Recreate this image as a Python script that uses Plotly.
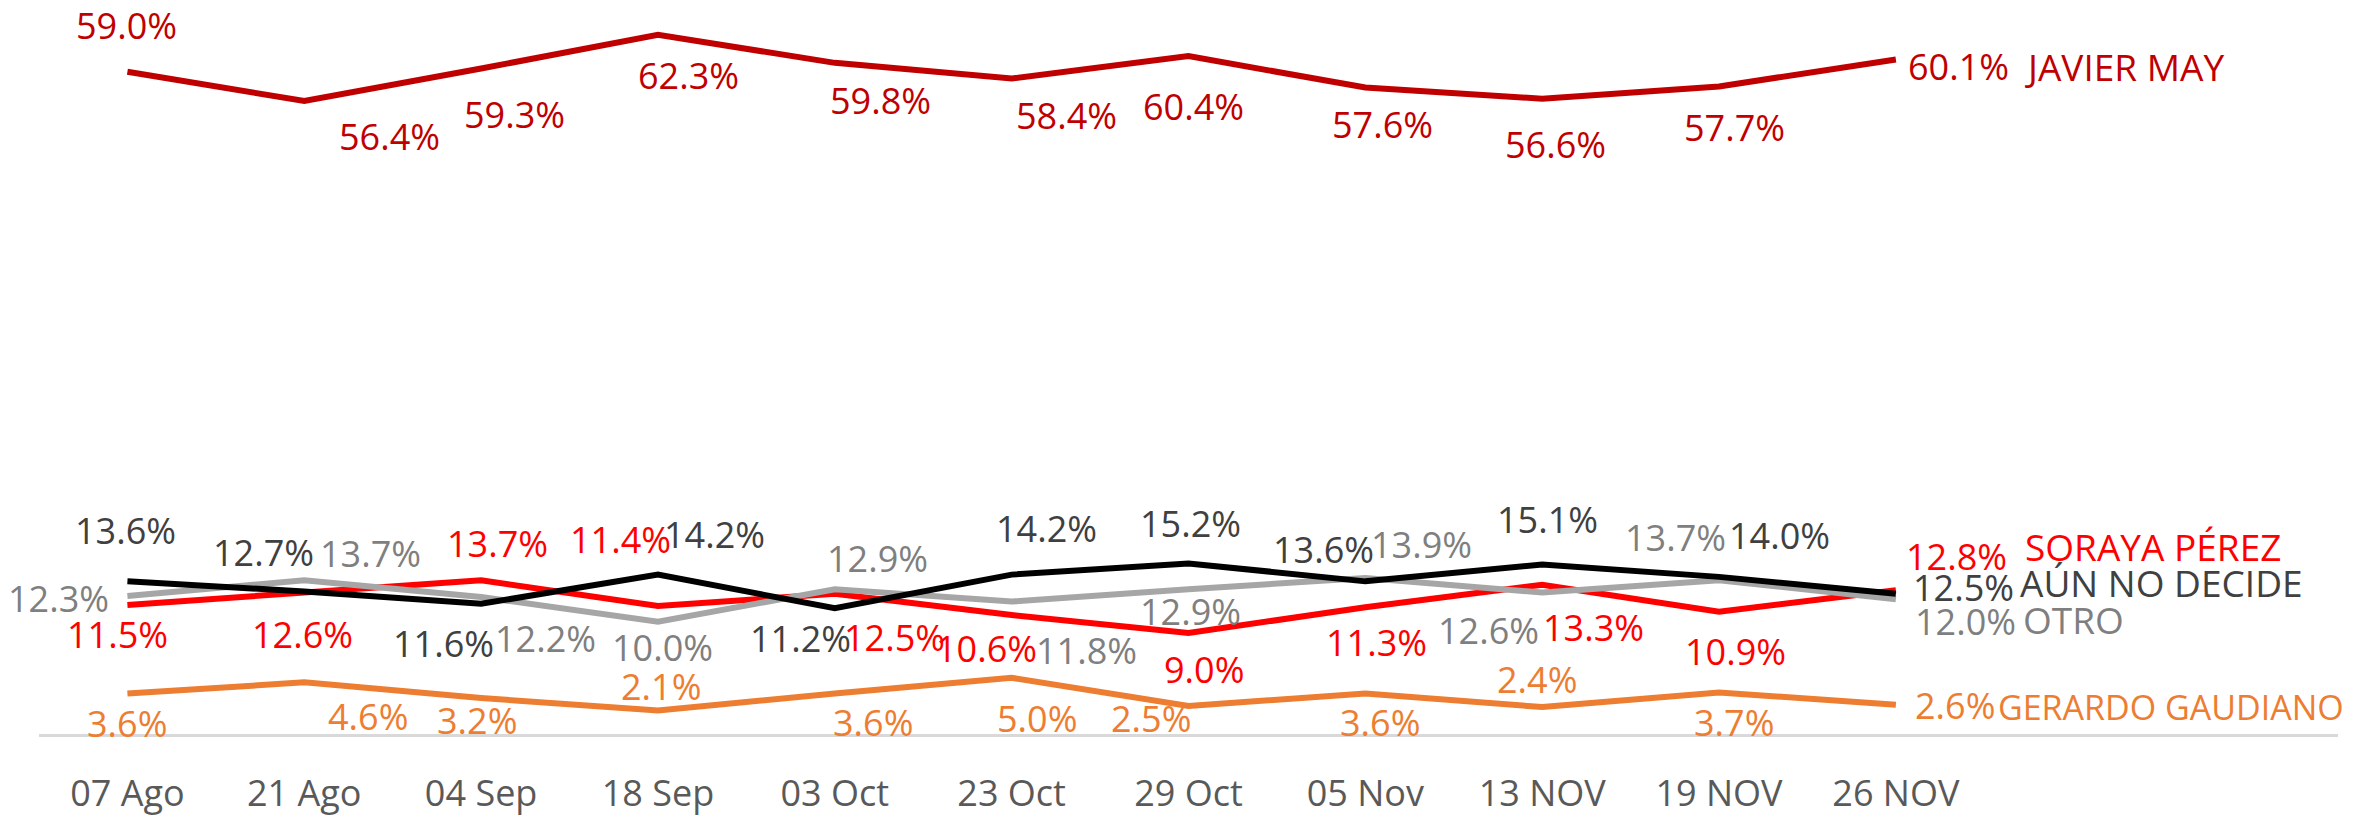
import plotly.graph_objects as go

# ---------------- data ----------------
categories = ["07 Ago", "21 Ago", "04 Sep", "18 Sep", "03 Oct", "23 Oct",
              "29 Oct", "05 Nov", "13 NOV", "19 NOV", "26 NOV"]

javier_may = [59.0, 56.4, 59.3, 62.3, 59.8, 58.4, 60.4, 57.6, 56.6, 57.7, 60.1]
soraya_perez = [11.5, 12.6, 13.7, 11.4, 12.5, 10.6, 9.0, 11.3, 13.3, 10.9, 12.8]
aun_no_decide = [13.6, 12.7, 11.6, 14.2, 11.2, 14.2, 15.2, 13.6, 15.1, 14.0, 12.5]
otro = [12.3, 13.7, 12.2, 10.0, 12.9, 11.8, 12.9, 13.9, 12.6, 13.7, 12.0]
gerardo_gaudiano = [3.6, 4.6, 3.2, 2.1, 3.6, 5.0, 2.5, 3.6, 2.4, 3.7, 2.6]

series_names = ["JAVIER MAY", "GERARDO GAUDIANO", "SORAYA PÉREZ", "OTRO", "AÚN NO DECIDE"]
series_values = [javier_may, gerardo_gaudiano, soraya_perez, otro, aun_no_decide]

# ---------------- styles ----------------
line_colors = ["#C00000", "#ED7D31", "#FF0000", "#A6A6A6", "#000000"]
label_colors = ["#C00000", "#ED7D31", "#FF0000", "#7F7F7F", "#404040"]
FONT = "Open Sans"
LABEL_SIZE = 36

# pixel offsets (dx right, dy down) of each point label relative to its point
label_offsets = [
    [(-1, -46), (85, 35), (33, 46), (31, 41), (46, 38), (55, 37), (5, 50), (17, 37), (13, 46), (15, 41)],
    [(0, 30), (64, 34), (-4, 22), (3, -24), (38, 29), (25, 41), (-38, 13), (15, 29), (-5, -28), (15, 30)],
    [(-10, 30), (-2, 42), (16, -37), (-37, -67), (60, 44), (-25, 33), (15, 37), (11, 35), (51, 43), (16, 40)],
    [(-69, 3), (66, -27), (64, 41), (5, 26), (43, -31), (75, 49), (2, 22), (56, -34), (-54, 38), (-44, -43)],
    [(-2, -51), (-41, -39), (-38, 40), (57, -40), (-34, 30), (35, -46), (2, -40), (-42, -32), (5, -45), (60, -41)],
]
# end-of-line value label (left anchored) and name label offsets
end_value_offsets = [(10, 7), (17, 1), (8, -34), (17, 22), (15, -6)]
end_name_offsets = [(127, 7), (100, 2), (127, -44), (125, 20), (122, -11)]
name_sizes = [37, 34, 37, 37, 37]

fig = go.Figure()
for name, vals, lc in zip(series_names, series_values, line_colors):
    fig.add_trace(go.Scatter(x=categories, y=vals, mode="lines", name=name,
                             line=dict(color=lc, width=6), showlegend=False,
                             hoverinfo="skip"))

annotations = []
for si, (name, vals) in enumerate(zip(series_names, series_values)):
    col = label_colors[si]
    for i, v in enumerate(vals[:-1]):
        dx, dy = label_offsets[si][i]
        annotations.append(dict(x=categories[i], y=v, xref="x", yref="y",
                                text=f"{v:.1f}%", showarrow=False,
                                xanchor="center", yanchor="middle",
                                xshift=dx, yshift=-dy,
                                font=dict(family=FONT, size=LABEL_SIZE, color=col)))
    dx, dy = end_value_offsets[si]
    annotations.append(dict(x=categories[-1], y=vals[-1], xref="x", yref="y",
                            text=f"{vals[-1]:.1f}%", showarrow=False,
                            xanchor="left", yanchor="middle",
                            xshift=dx, yshift=-dy,
                            font=dict(family=FONT, size=LABEL_SIZE, color=col)))
    dx, dy = end_name_offsets[si]
    annotations.append(dict(x=categories[-1], y=vals[-1], xref="x", yref="y",
                            text=name, showarrow=False,
                            xanchor="left", yanchor="middle",
                            xshift=dx, yshift=-dy,
                            font=dict(family=FONT, size=name_sizes[si], color=col)))

fig.update_layout(
    width=2371, height=817,
    margin=dict(l=39, r=33, t=0, b=78, pad=0),
    paper_bgcolor="white", plot_bgcolor="white",
    annotations=annotations,
    font=dict(family=FONT),
    xaxis=dict(type="category", range=[-0.5, 12.5], showgrid=False, zeroline=False,
               showline=True, linecolor="#D9D9D9", linewidth=3, ticks="",
               tickfont=dict(family=FONT, size=36, color="#595959"),
               ticklabelstandoff=26),
    yaxis=dict(range=[0, 65.4], visible=False, showgrid=False, zeroline=False),
)

fig.write_html("out.html",
               config={"displayModeBar": False},
               post_script="document.body.style.margin='0';document.body.style.overflow='hidden';")
